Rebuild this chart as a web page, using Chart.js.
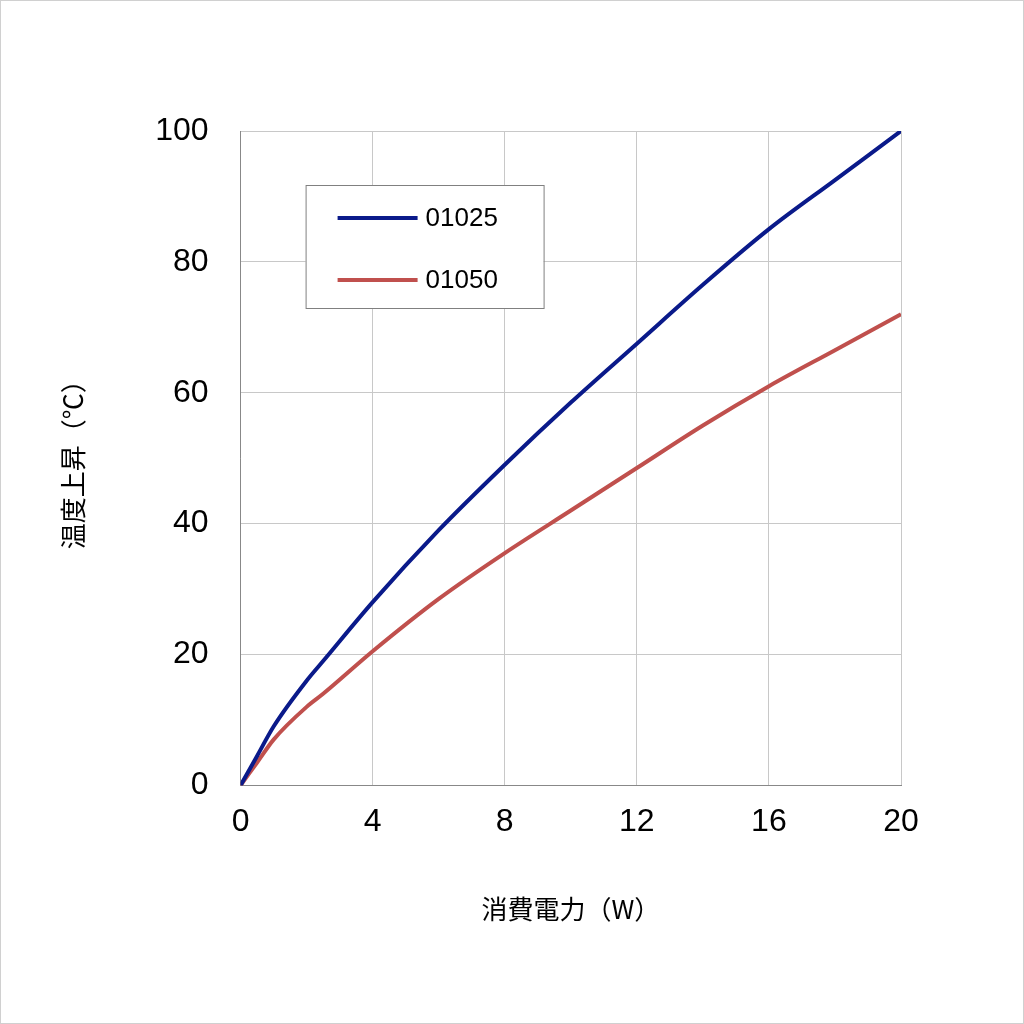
<!DOCTYPE html>
<html>
<head>
<meta charset="utf-8">
<script src="https://cdn.jsdelivr.net/npm/chart.js@4/dist/chart.umd.min.js"></script>
<style>
  html, body { margin: 0; padding: 0; background: #fff; }
  #wrap { width: 1022px; height: 1022px; border: 1px solid #d0d0d0; }
</style>
</head>
<body>
<div id="wrap"><canvas id="c" width="1022" height="1022"></canvas></div>
<script>
'use strict';

const power = [0, 0.5, 1, 2, 2.5, 4, 6, 8, 10, 12, 14, 16, 18, 20];
const rise01025 = [0, 4.5, 9, 16, 19, 28, 39, 49, 58.5, 67.5, 76.5, 85, 92.5, 100];
const rise01050 = [0, 3.5, 7, 12, 14, 20.5, 28.5, 35.5, 42, 48.5, 55, 61, 66.5, 72];
const xTicks = [0, 4, 8, 12, 16, 20];
const yTicks = [0, 20, 40, 60, 80, 100];

const toPts = (ys) => power.map((x, i) => ({ x, y: ys[i] }));
const tickFont = { family: "'Liberation Sans', Arial, sans-serif", size: 32 };
const titleFont = { family: "'Noto Sans CJK JP', sans-serif", size: 26 };

const insideLegend = {
  id: 'insideLegend',
  afterDraw(chart) {
    const { ctx, chartArea } = chart;
    const x0 = chartArea.left + 65, y0 = chartArea.top + 54, w = 238, h = 123;
    ctx.save();
    ctx.fillStyle = '#fff';
    ctx.fillRect(x0, y0, w, h);
    ctx.strokeStyle = '#808080';
    ctx.lineWidth = 1;
    ctx.strokeRect(x0 + 0.5, y0 + 0.5, w, h);
    ctx.font = "26px 'Liberation Sans', Arial, sans-serif";
    ctx.textBaseline = 'middle';
    chart.data.datasets.forEach((ds, i) => {
      const y = y0 + 33 + i * 62;
      ctx.strokeStyle = ds.borderColor;
      ctx.lineWidth = 4;
      ctx.beginPath();
      ctx.moveTo(x0 + 32, y);
      ctx.lineTo(x0 + 112, y);
      ctx.stroke();
      ctx.fillStyle = '#000';
      ctx.fillText(ds.label, x0 + 120, y + 1);
    });
    ctx.restore();
  },
};

new Chart(document.getElementById('c'), {
  type: 'line',
  data: {
    datasets: [
      { label: '01025', data: toPts(rise01025), borderColor: '#0a1a8a', borderWidth: 4, pointRadius: 0, tension: 0.4, cubicInterpolationMode: 'monotone' },
      { label: '01050', data: toPts(rise01050), borderColor: '#c0504d', borderWidth: 4, pointRadius: 0, tension: 0.4, cubicInterpolationMode: 'monotone' },
    ],
  },
  plugins: [insideLegend],
  options: {
    responsive: false,
    animation: false,
    layout: { padding: { left: 53, right: 122, top: 130, bottom: 94 } },
    plugins: { legend: { display: false }, tooltip: { enabled: false } },
    scales: {
      x: {
        type: 'linear', min: 0, max: 20,
        afterBuildTicks: (s) => { s.ticks = xTicks.map((v) => ({ value: v })); },
        grid: { color: '#c8c8c8', drawTicks: false },
        border: { color: '#888' },
        ticks: { color: '#000', font: tickFont, padding: 18, maxRotation: 0 },
        title: { display: true, text: '消費電力（W）', color: '#000', font: titleFont, padding: { top: 34 } },
      },
      y: {
        min: 0, max: 100,
        afterBuildTicks: (s) => { s.ticks = yTicks.map((v) => ({ value: v })); },
        grid: { color: '#c8c8c8', drawTicks: false },
        border: { color: '#888' },
        ticks: { color: '#000', font: tickFont, padding: 32 },
        title: { display: true, text: '温度上昇（℃）', color: '#000', font: titleFont, padding: { bottom: 34 } },
      },
    },
  },
});
</script>
</body>
</html>
